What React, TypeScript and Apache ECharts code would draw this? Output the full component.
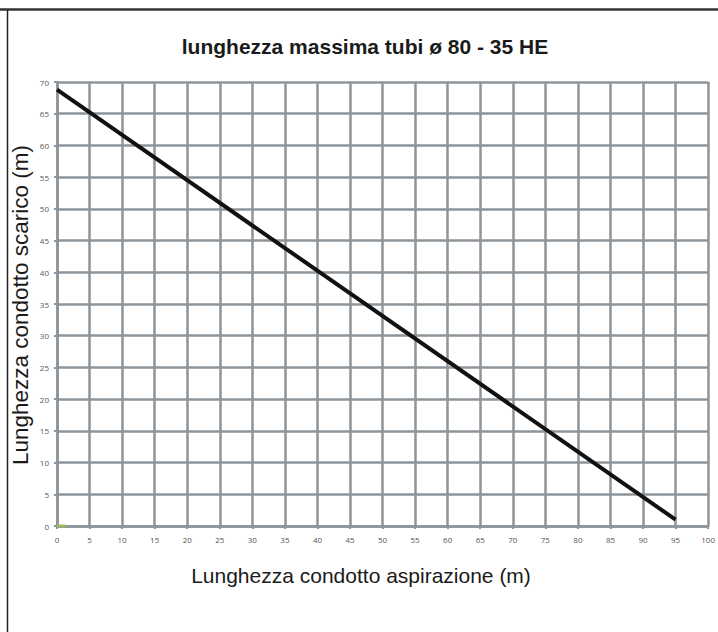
import React, { useEffect, useRef } from "react";
import * as echarts from "echarts";

const lineData: [number, number][] = [
  [0, 68.8],
  [95, 1],
];
const greenData: [number, number][] = [
  [0, 0],
  [1.3, 0],
];
const titleText = "lunghezza massima tubi ø 80 - 35 HE";
const xName = "Lunghezza condotto aspirazione (m)";
const yName = "Lunghezza condotto scarico (m)";

export default function App() {
  const ref = useRef<HTMLDivElement>(null);
  useEffect(() => {
    if (!ref.current) return;
    const chart = echarts.init(ref.current, null, { renderer: "svg" });
    const gridColor = "#8d949a";
    const font = "Liberation Sans, Arial, sans-serif";
    chart.setOption({
      animation: false,
      backgroundColor: "#ffffff",
      grid: { left: 57, right: 7, top: 82, bottom: 106, containLabel: false },
      xAxis: {
        type: "value",
        min: 0,
        max: 100,
        interval: 5,
        axisLine: { show: true, lineStyle: { color: gridColor, width: 2.5 } },
        axisTick: { show: true, length: 3, lineStyle: { color: gridColor, width: 2 } },
        axisLabel: {
          fontFamily: "Open Sans, sans-serif",
          fontSize: 8,
          color: "#555",
          margin: 9,
        },
        splitLine: { show: true, lineStyle: { color: gridColor, width: 2.5 } },
      },
      yAxis: {
        type: "value",
        min: 0,
        max: 70,
        interval: 5,
        axisLine: { show: true, lineStyle: { color: gridColor, width: 2.5 } },
        axisTick: { show: true, length: 3, lineStyle: { color: gridColor, width: 2 } },
        axisLabel: {
          fontFamily: "Open Sans, sans-serif",
          fontSize: 8,
          color: "#555",
          margin: 8,
        },
        splitLine: { show: true, lineStyle: { color: gridColor, width: 2.5 } },
      },
      series: [
        {
          type: "line",
          data: greenData,
          symbol: "none",
          lineStyle: { color: "#9bbb59", width: 3 },
          z: 3,
        },
        {
          type: "line",
          data: lineData,
          symbol: "none",
          lineStyle: { color: "#111111", width: 4 },
          z: 4,
        },
      ],
      graphic: [
        {
          type: "line",
          shape: { x1: 0, y1: 9.5, x2: 718, y2: 9.5 },
          style: { stroke: "#333", lineWidth: 2.5 },
        },
        {
          type: "line",
          shape: { x1: 7.5, y1: 10, x2: 7.5, y2: 632 },
          style: { stroke: "#222", lineWidth: 1.5 },
        },
        {
          type: "text",
          x: 365,
          y: 46,
          style: {
            text: titleText,
            font: `bold 21px ${font}`,
            fill: "#1a1a1a",
            align: "center",
            verticalAlign: "middle",
          },
        },
        {
          type: "text",
          x: 361,
          y: 575,
          style: {
            text: xName,
            font: `21px ${font}`,
            fill: "#1a1a1a",
            align: "center",
            verticalAlign: "middle",
          },
        },
        {
          type: "text",
          x: 20,
          y: 305,
          rotation: Math.PI / 2,
          style: {
            text: yName,
            font: `22.5px ${font}`,
            fill: "#1a1a1a",
            align: "center",
            verticalAlign: "middle",
          },
        },
      ],
    });
    return () => chart.dispose();
  }, []);
  return (
    <div
      ref={ref}
      style={{ position: "absolute", left: 0, top: 0, width: 718, height: 632 }}
    />
  );
}
